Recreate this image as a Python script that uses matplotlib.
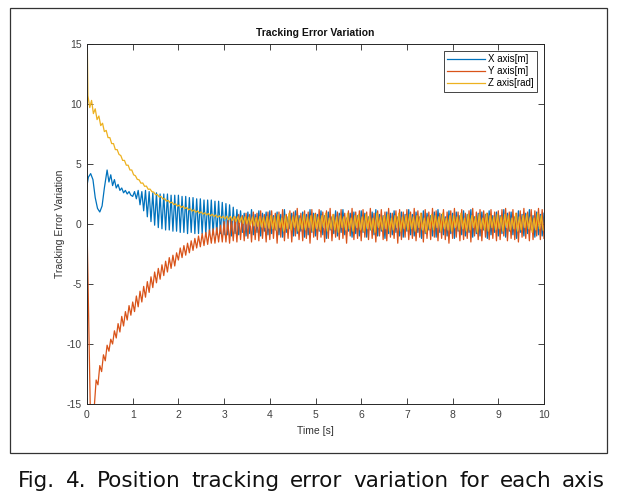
import numpy as np
import matplotlib.pyplot as plt
from matplotlib.patches import Rectangle

# half period of the steady oscillation (s)
step = 0.04

# X axis [m] : start-up part, then peaks/troughs every 0.04 s from 1.00 s
x_head_t = [0.0, 0.03, 0.08, 0.13, 0.18, 0.23, 0.28, 0.33, 0.38, 0.44, 0.48, 0.52,
            0.56, 0.60, 0.64, 0.68, 0.72, 0.76, 0.80, 0.84, 0.88, 0.92, 0.96]
x_head = [3.2, 3.9, 4.2, 3.7, 2.2, 1.3, 1.0, 1.5, 3.0, 4.5, 3.5, 4.1,
          3.2, 3.7, 3.0, 3.3, 2.8, 3.0, 2.6, 2.8, 2.5, 2.7, 2.4]
x_osc_start = 1.00
x_osc = [
    2.3, 2.7, 2.1, 2.8, 1.6, 2.7, 1.1, 2.8, 0.6, 2.7, 0.2, 2.6, -0.1, 2.6, -0.3, 2.5, -0.4, 2.5, -0.5, 2.5, -0.5, 2.4, -0.6, 2.4, -0.6,
    2.4, -0.7, 2.3, -0.7, 2.3, -0.8, 2.2, -0.7, 2.2, -0.8, 2.1, -0.8, 2.1, -0.8, 2.0, -0.9, 2.0, -0.8, 2.0, -0.9, 1.9, -0.9, 1.9, -0.8, 1.8,
    -0.9, 1.7, -0.9, 1.6, -1.0, 1.4, -0.8, 1.2, -0.9, 1.1, -0.7, 0.9, -1.0, 1.0, -0.8, 1.2, -0.9, 0.8, -0.7, 1.1, -1.0, 0.9, -0.6, 1.0, -0.9,
    1.1, -0.8, 0.7, -0.5, 1.0, -0.9, 0.8, -1.1, 1.2, -0.7, 0.6, -0.4, 0.9, -1.0, 1.1, -0.8, 0.7, -0.6, 1.0, -1.1, 0.8, -0.9, 1.2, -0.7, 0.9,
    -1.0, 0.8, -0.6, 1.1, -0.9, 0.7, -1.2, 1.0, -0.5, 0.6, -0.8, 1.1, -1.0, 0.9, -0.7, 1.2, -0.9, 0.5, -0.6, 0.9, -1.1, 1.0, -0.8, 0.7, -1.0,
    1.1, -0.7, 0.9, -1.1, 0.6, -0.5, 1.0, -0.9, 1.2, -1.0, 0.8, -0.6, 0.7, -1.2, 1.0, -0.8, 0.9, -0.9, 1.1, -0.7, 0.6, -1.0, 1.0, -1.1, 0.8,
    -0.6, 1.2, -0.9, 0.8, -1.0, 1.0, -0.7, 0.6, -1.2, 1.1, -0.8, 0.9, -0.5, 0.7, -1.0, 1.0, -1.1, 1.2, -0.7, 0.8, -0.9, 0.6, -1.0, 1.1, -0.8,
    0.9, -1.2, 1.0, -0.6, 0.7, -0.9, 1.1, -1.0, 0.8, -0.7, 1.2, -1.1, 0.6, -0.8, 0.9, -1.0, 1.0, -0.5, 0.8, -1.2, 1.1, -0.9, 0.7, -0.7, 1.0,
    -1.0, 0.7, -0.8, 1.2, -1.1, 0.9, -0.6, 1.0, -0.9, 0.6, -1.2, 1.1, -0.7, 0.8, -1.0, 0.9, -0.8, 1.2, -0.5, 0.7, -1.1, 1.0, -0.9, 0.8, -1.0,
    0.9,
]

# Y axis [m]
y_head_t = [0.0, 0.07, 0.10, 0.13]
y_head = [0.0, -15.0, -16.0, -15.6]
y_osc_start = 0.16
y_osc = [
    -15.2, -13.0, -13.4, -11.8, -12.3, -10.9, -11.4, -10.1, -10.6, -9.6, -10.0, -8.9, -9.5, -8.3, -9.0, -7.7, -8.5, -7.3, -8.0, -6.8, -7.6,
    -6.5, -7.3, -6.0, -6.9, -5.6, -6.5, -5.2, -6.1, -4.8, -5.7, -4.4, -5.3, -4.0, -4.9, -3.7, -4.6, -3.4, -4.3, -3.1, -4.0, -2.8, -3.7, -2.6, -3.5, -2.4,
    -3.0, -2.0, -2.8, -1.8, -2.6, -1.6, -2.4, -1.4, -2.2, -1.2, -2.0, -1.0, -1.9, -0.8, -1.8, -0.7, -1.7, -0.5, -1.6, -0.4, -1.6, -0.3, -1.5, -0.1, -1.5,
    0.2, -1.5, 0.3, -1.6, 0.5, -1.4, 0.6, -1.5, 0.8, -1.3, 0.7, -1.4, 0.9, -1.2, 0.8, -1.5, 1.0, -1.3, 0.9, -1.4, 1.1, -1.2, 0.8, -1.5, 1.0,
    -1.3, 1.1, -1.2, 0.9, -1.6, 1.0, -1.1, 1.2, -1.4, 0.8, -1.2, 1.1, -1.5, 1.0, -1.0, 1.3, -1.3, 0.9, -1.4, 1.1, -1.2, 1.0, -1.6, 1.2, -1.1,
    0.9, -1.3, 1.2, -1.1, 1.0, -1.5, 1.1, -1.2, 1.3, -1.4, 0.8, -1.1, 1.0, -1.3, 1.2, -1.2, 0.9, -1.6, 1.1, -1.0, 1.3, -1.3, 1.0, -1.2, 1.1,
    -1.4, 1.2, -1.1, 1.0, -1.3, 1.3, -1.2, 0.9, -1.5, 1.1, -1.0, 1.2, -1.3, 1.0, -1.4, 1.3, -1.1, 0.9, -1.2, 1.1, -1.6, 1.2, -1.3, 1.0, -1.1,
    1.2, -1.3, 1.0, -1.2, 1.3, -1.4, 1.1, -1.1, 0.9, -1.5, 1.2, -1.2, 1.0, -1.3, 1.3, -1.1, 1.1, -1.4, 0.9, -1.2, 1.2, -1.3, 1.0, -1.6, 1.1,
    -1.2, 1.3, -1.1, 1.0, -1.4, 1.2, -1.3, 0.9, -1.2, 1.1, -1.5, 1.3, -1.0, 1.0, -1.3, 1.2, -1.4, 1.1, -1.1, 0.9, -1.3, 1.2, -1.2, 1.0, -1.4,
    1.1, -1.3, 1.2, -1.0, 1.3, -1.4, 1.0, -1.2, 1.2, -1.3, 0.9, -1.5, 1.1, -1.1, 1.3, -1.2, 1.0, -1.4, 1.2, -1.3, 1.1, -1.0, 1.3, -1.3, 1.2,
    -1.2,
]

# Z axis [rad]
z_head_t = [0.0, 0.008]
z_head = [0.3, 14.6]
z_osc_start = 0.02
z_osc = [
    10.7, 9.7, 10.3, 9.2, 9.6, 8.7, 9.0, 8.2, 8.4, 7.7, 7.8, 7.2, 7.2, 6.7, 6.7, 6.2, 6.2, 5.8, 5.7, 5.3, 5.3, 4.9, 4.9, 4.5, 4.5,
    4.10, 4.02, 3.72, 3.68, 3.40, 3.42, 3.14, 3.16, 2.89, 2.91, 2.69, 2.66, 2.44, 2.46, 2.25, 2.30, 2.09, 2.11, 1.90, 1.96, 1.76, 1.82, 1.62, 1.68, 1.48,
    1.58, 1.38, 1.48, 1.28, 1.38, 1.18, 1.27, 1.07, 1.18, 0.98, 1.10, 0.90, 1.01, 0.82, 0.94, 0.75, 0.88, 0.68, 0.81, 0.62, 0.75, 0.56, 0.69, 0.50, 0.64,
    0.42, 0.66, 0.35, 0.64, 0.28, 0.63, 0.20, 0.61, 0.13, 0.60, 0.05, 0.62, 0.0, 0.58, -0.10, 0.60, -0.15, 0.55, -0.20, 0.62, -0.25, 0.58, -0.30, 0.65, -0.35,
    0.7, -0.4, 0.6, -0.5, 0.8, -0.3, 0.5, -0.6, 0.7, -0.4, 0.9, -0.5, 0.6, -0.3, 0.7, -0.6, 0.5, -0.4, 0.8, -0.5, 0.6, -0.3, 0.7, -0.6, 0.8,
    -0.4, 0.6, -0.5, 0.7, -0.3, 0.9, -0.6, 0.5, -0.4, 0.8, -0.5, 0.6, -0.7, 0.7, -0.3, 0.6, -0.5, 0.9, -0.4, 0.5, -0.6, 0.7, -0.3, 0.8, -0.5,
    0.6, -0.6, 0.8, -0.4, 0.7, -0.5, 0.5, -0.7, 0.9, -0.3, 0.6, -0.5, 0.7, -0.4, 0.8, -0.6, 0.5, -0.5, 0.7, -0.3, 0.9, -0.6, 0.6, -0.4, 0.7,
    -0.5, 0.8, -0.4, 0.6, -0.6, 0.7, -0.3, 0.9, -0.5, 0.5, -0.7, 0.6, -0.4, 0.8, -0.5, 0.7, -0.3, 0.6, -0.6, 0.9, -0.4, 0.5, -0.5, 0.7, -0.6,
    0.7, -0.3, 0.6, -0.5, 0.9, -0.4, 0.5, -0.6, 0.8, -0.5, 0.7, -0.3, 0.6, -0.7, 0.8, -0.4, 0.5, -0.5, 0.9, -0.6, 0.7, -0.3, 0.6, -0.5, 0.8,
    -0.4, 0.6, -0.6, 0.8, -0.3, 0.7, -0.5, 0.5, -0.4, 0.9, -0.6, 0.6, -0.5, 0.7, -0.3, 0.8, -0.4, 0.6, -0.7, 0.5, -0.5, 0.9, -0.4, 0.7, -0.5,
]

labels = ['X axis[m]', 'Y axis[m]', 'Z axis[rad]']
colors = ['#0072BD', '#D95319', '#EDB120']
x_ticks = list(range(0, 11))
y_ticks = [-15, -10, -5, 0, 5, 10, 15]
caption = 'Fig. 4. Position tracking error variation for each axis'


def build(head_t, head, start, osc):
    t = np.concatenate([head_t, start + step * np.arange(len(osc))])
    return t, np.concatenate([head, osc])


plt.rcParams['font.family'] = ['Liberation Sans', 'DejaVu Sans']
plt.rcParams['axes.unicode_minus'] = False
fig = plt.figure(figsize=(6.2, 5.04), dpi=100)
ax = fig.add_axes([87 / 620, 100 / 504, 457 / 620, 360 / 504])

for (ht, hv, st, ov), lab, c in zip([(x_head_t, x_head, x_osc_start, x_osc),
                                     (y_head_t, y_head, y_osc_start, y_osc),
                                     (z_head_t, z_head, z_osc_start, z_osc)], labels, colors):
    t, v = build(ht, hv, st, ov)
    ax.plot(t, v, color=c, lw=0.9, label=lab)

ax.set_xlim(0, 10)
ax.set_ylim(-15, 15)
ax.set_xticks(x_ticks)
ax.set_yticks(y_ticks)
ax.tick_params(direction='in', top=True, right=True, length=4, width=0.6,
               labelsize=7.5, colors='#262626', labelcolor='#404040', pad=4)
for s in ax.spines.values():
    s.set_color('#262626')
    s.set_linewidth(0.7)

ax.set_title('Tracking Error Variation', fontsize=7.5, fontweight='bold', color='#111111', pad=6)
ax.set_xlabel('Time [s]', fontsize=7.5, color='#333333', labelpad=5)
ax.set_ylabel('Tracking Error Variation', fontsize=7.5, color='#333333', labelpad=1)

leg = ax.legend(loc='upper right', fontsize=7, handlelength=3.9, handletextpad=0.3,
                labelspacing=0.2, borderpad=0.35, borderaxespad=0.7, fancybox=False,
                framealpha=1, edgecolor='#262626')
leg.get_frame().set_linewidth(0.6)

# outer frame around the chart
fig.patches.append(Rectangle((10 / 620, 51 / 504), 597 / 620, 445 / 504, transform=fig.transFigure,
                             fill=False, edgecolor='#333333', lw=0.9))

# caption, justified between x=18 and x=605 px like the printed figure
words = caption.split()
renderer = fig.canvas.get_renderer()
texts = [fig.text(0, 1 - 487 / 504, w, ha='left', va='baseline', fontsize=15.5,
                  color='#111111', family='DejaVu Sans') for w in words]
widths = [tx.get_window_extent(renderer).width for tx in texts]
gap = (587 - sum(widths)) / (len(words) - 1)
xpos = 18
for tx, w in zip(texts, widths):
    tx.set_x(xpos / 620)
    xpos += w + gap

fig.savefig('out.png', dpi=100)
